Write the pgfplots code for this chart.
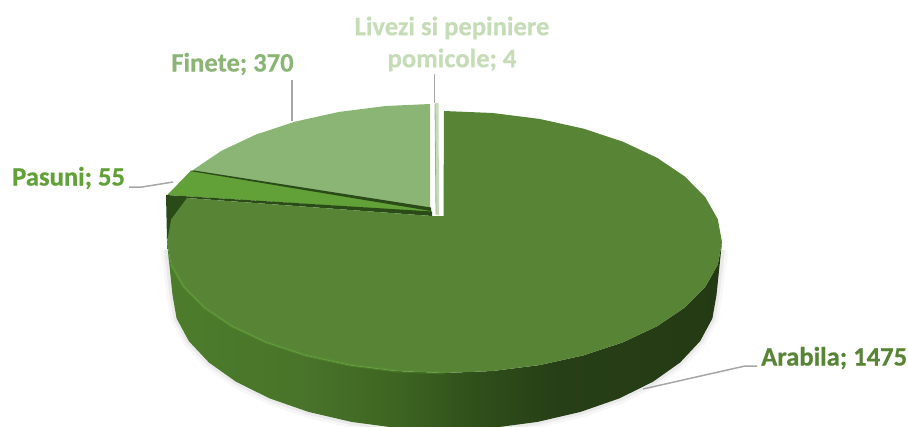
\documentclass[border=0pt]{standalone}
\usepackage{pgfplots}
\pgfplotsset{compat=1.18}
\usepackage{fontspec}
\setmainfont[BoldFeatures={FakeBold=0.5}]{Carlito}
\definecolor{cArabila}{HTML}{578535}
\definecolor{cPasuni}{HTML}{62A038}
\definecolor{cFinete}{HTML}{8AB574}
\definecolor{cLivezi}{HTML}{C5DCB6}
\definecolor{cDark}{HTML}{2A4A18}
\definecolor{cLead}{HTML}{A6A6A6}
\definecolor{s1}{HTML}{4C7D2B}
\definecolor{s2}{HTML}{49742A}
\definecolor{s3}{HTML}{3D6421}
\definecolor{s4}{HTML}{2F4F1A}
\definecolor{s5}{HTML}{273F16}
\definecolor{s6}{HTML}{243A14}
\pgfdeclarehorizontalshading{sidegreen}{100bp}{color(0bp)=(s1); color(25bp)=(s1); color(37bp)=(s2); color(46bp)=(s3); color(53bp)=(s4); color(60bp)=(s5); color(75bp)=(s6); color(100bp)=(s6)}
\begin{document}
\begin{tikzpicture}
\begin{axis}[
  name=a,
  hide axis, scale only axis, width=908pt, height=426pt,
  xmin=0, xmax=908, ymin=0, ymax=426, y dir=reverse,
  every axis plot/.append style={mark=none, line join=round}]
% soft shadow under the rim
\addplot[draw=black, opacity=.03, line width=12pt] coordinates {(167,250)(172.5,295)(176.6,318.4)(188.9,341.2)(208.9,362.5)(236.1,381.8)(269.7,398.4)(308.5,411.9)(351.5,421.9)(397.3,428)(444.5,430)(491.7,428)(537.5,421.9)(580.5,411.9)(619.3,398.4)(652.9,381.8)(680.1,362.5)(700.1,341.2)(712.4,318.4)(716.5,295)(722,250)};
\addplot[draw=black, opacity=.05, line width=6pt] coordinates {(167,250)(172.5,295)(176.6,318.4)(188.9,341.2)(208.9,362.5)(236.1,381.8)(269.7,398.4)(308.5,411.9)(351.5,421.9)(397.3,428)(444.5,430)(491.7,428)(537.5,421.9)(580.5,411.9)(619.3,398.4)(652.9,381.8)(680.1,362.5)(700.1,341.2)(712.4,318.4)(716.5,295)(722,250)};
% side wall
\addplot[draw=none, shading=sidegreen] coordinates {(167,242)(172.5,295)(176.6,318.4)(188.9,341.2)(208.9,362.5)(236.1,381.8)(269.7,398.4)(308.5,411.9)(351.5,421.9)(397.3,428)(444.5,430)(491.7,428)(537.5,421.9)(580.5,411.9)(619.3,398.4)(652.9,381.8)(680.1,362.5)(700.1,341.2)(712.4,318.4)(716.5,295)(722,242)(717.8,264.7)(705.3,286.8)(684.8,307.5)(657.1,326.2)(622.9,342.3)(583.3,355.4)(539.4,365.1)(492.7,371)(444.5,373)(396.3,371)(349.6,365.1)(305.7,355.4)(266.1,342.3)(231.9,326.2)(204.2,307.5)(183.7,286.8)(171.2,264.7)} --cycle;
% Finete
\addplot[draw=none, fill=cFinete] coordinates {(430,208)(430,104)(385.8,106)(339.1,111.9)(295.2,121.6)(255.6,134.7)(221.4,150.8)(193.7,169.5)(192,171.5)} --cycle;
% Pasuni
\addplot[draw=none, fill=cPasuni] coordinates {(431,212)(431,209)(191,170.5)(178,184)(167,195)} --cycle;
\addplot[draw=none, fill=cDark] coordinates {(190,171)(194,170.5)(431,207.5)(431,211)} --cycle;
\addplot[draw=none, fill=cDark] coordinates {(166,195)(432,211.5)(432,216)(187,198)(167,240)} --cycle;
% Livezi
\addplot[draw=none, fill=cLivezi] coordinates {(435,103)(438.5,103)(439,215)(436,215)} --cycle;
\addplot[draw=cLead, line width=.8pt] coordinates {(435,104)(436,214)};
% Arabila
\addplot[draw=none, fill=cArabila] coordinates {(432,216)(443.5,216)(444,111)(492.7,113)(539.4,118.9)(583.3,128.6)(622.9,141.7)(657.1,157.8)(684.8,176.5)(705.3,197.2)(717.8,219.3)(722,242)(717.8,264.7)(705.3,286.8)(684.8,307.5)(657.1,326.2)(622.9,342.3)(583.3,355.4)(539.4,365.1)(492.7,371)(444.5,373)(396.3,371)(349.6,365.1)(305.7,355.4)(266.1,342.3)(231.9,326.2)(204.2,307.5)(183.7,286.8)(171.2,264.7)(167,242)(171.2,219.3)(187,198)} --cycle;
% rim highlight
\addplot[draw=cPasuni, opacity=.25, line width=3pt] coordinates {(169,255)(171.2,264.7)(183.7,286.8)(204.2,307.5)(231.9,326.2)(266.1,342.3)(305.7,355.4)(349.6,365.1)(396.3,371)(444.5,373)};
\addplot[draw=cPasuni, opacity=.5, line width=1.2pt] coordinates {(171.2,264.7)(183.7,286.8)(204.2,307.5)(231.9,326.2)(266.1,342.3)(305.7,355.4)(349.6,365.1)(396.3,371)};
% leader lines
\addplot[draw=cLead, line width=1.5pt] coordinates {(643,389)(745,366)(757,366)};
\addplot[draw=cLead, line width=1.5pt] coordinates {(129,187)(142,187)(173,182)};
\addplot[draw=cLead, line width=1.5pt] coordinates {(292,121)(292,80)};
\addplot[draw=cLead, line width=1.5pt] coordinates {(434.5,74)(434.5,103)};
% labels
\node[anchor=west, inner sep=0, text=cArabila, font=\fontsize{26.6}{30}\selectfont\bfseries] at (axis cs:761,358) {Arabila; 1475};
\node[anchor=west, inner sep=0, text=cPasuni, font=\fontsize{26.6}{30}\selectfont\bfseries] at (axis cs:12,178) {Pasuni; 55};
\node[anchor=center, inner sep=0, text=cFinete, font=\fontsize{26.6}{30}\selectfont\bfseries] at (axis cs:232.5,64) {Finete; 370};
\node[anchor=center, inner sep=0, text=cLivezi, font=\fontsize{26.6}{30}\selectfont\bfseries] at (axis cs:452,28) {Livezi si pepiniere};
\node[anchor=center, inner sep=0, text=cLivezi, font=\fontsize{26.6}{30}\selectfont\bfseries] at (axis cs:452,60) {pomicole; 4};
\end{axis}
\pgfresetboundingbox
\useasboundingbox (a.south west) rectangle (a.north east);
\end{tikzpicture}
\end{document}
